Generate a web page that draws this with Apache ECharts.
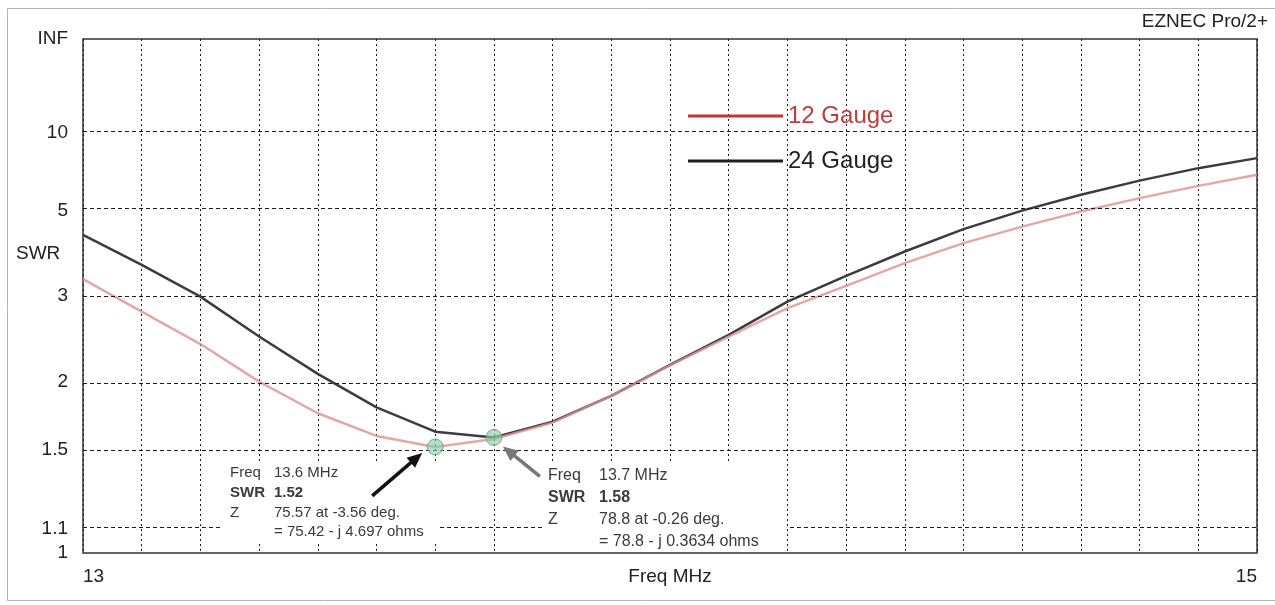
<!DOCTYPE html>
<html><head><meta charset="utf-8">
<script src="https://cdn.jsdelivr.net/npm/echarts@6/dist/echarts.min.js"></script>
<style>html,body{margin:0;padding:0;background:#fff}#c{width:1275px;height:605px}</style>
</head><body><div id="c"></div>
<script>
// ---- data ----
const freqs = [13.0,13.1,13.2,13.3,13.4,13.5,13.6,13.7,13.8,13.9,14.0,14.1,14.2,14.3,14.4,14.5,14.6,14.7,14.8,14.9,15.0];
const swr24 = [4.25,3.55,2.99,2.455,2.07,1.79,1.618,1.58,1.687,1.88,2.155,2.475,2.915,3.34,3.837,4.407,4.99,5.6,6.26,6.96,7.63];
const swr12 = [3.28,2.77,2.37,2.0,1.747,1.59,1.52,1.57,1.68,1.88,2.15,2.455,2.82,3.165,3.587,4.036,4.48,4.96,5.46,6.0,6.57];
const markerFreq = [13.6, 13.7];
const markerSwr = [1.52, 1.58];
const yTickSwr = [Infinity, 10, 5, 3, 2, 1.5, 1.1, 1];
const yTickLabels = ['INF','10','5','3','2','1.5','1.1','1'];
const gridSwr = [10, 5, 3, 2, 1.5, 1.1];
const xTickLabels = {13: '13', 14: 'Freq MHz', 15: '15'};
const note1Labels = ['Freq','SWR','Z',''];
const note1Values = ['13.6 MHz','1.52','75.57 at -3.56 deg.','= 75.42 - j 4.697 ohms'];
const note2Labels = ['Freq','SWR','Z',''];
const note2Values = ['13.7 MHz','1.58','78.8 at -0.26 deg.','= 78.8 - j 0.3634 ohms'];

// SWR plotted on a reflection-coefficient scale (as EZNEC does)
const toRho = s => s === Infinity ? 1 : (s - 1) / (s + 1);
const FONT = '"Liberation Sans", Arial, sans-serif';

const chart = echarts.init(document.getElementById('c'), null, {renderer: 'canvas'});

const option = {
  backgroundColor: '#fff',
  animation: false,
  textStyle: {fontFamily: FONT},
  grid: {left: 83, right: 18, top: 39, bottom: 52, show: true, borderColor: '#333', borderWidth: 1.5, backgroundColor: 'transparent'},
  legend: {
    orient: 'vertical', left: 683, top: 99, itemWidth: 95, itemHeight: 3, itemGap: 21,
    icon: 'rect', selectedMode: false,
    textStyle: {fontSize: 24, fontFamily: FONT},
    data: [
      {name: '12 Gauge', itemStyle: {color: '#c83232'}, textStyle: {color: '#c23b3b'}},
      {name: '24 Gauge', itemStyle: {color: '#1e1e1e'}, textStyle: {color: '#1e1e1e'}}
    ]
  },
  xAxis: {
    type: 'value', min: 13, max: 15, interval: 0.1,
    axisLine: {show: false}, axisTick: {show: false},
    axisLabel: {
      margin: 14, fontSize: 19, color: '#222', fontFamily: FONT,
      alignMinLabel: 'left', alignMaxLabel: 'right',
      formatter: v => { const k = Math.round(v * 10) / 10; return (k in xTickLabels && Math.abs(k - Math.round(k)) < 1e-6) ? xTickLabels[k] : ''; }
    },
    splitLine: {show: true, lineStyle: {color: '#1a1a1a', width: 1, type: [2, 3]}}
  },
  yAxis: {
    type: 'value', min: 0, max: 1,
    axisLine: {show: false}, axisTick: {show: false}, splitLine: {show: false},
    axisLabel: {
      margin: 15, fontSize: 19, color: '#222', fontFamily: FONT,
      customValues: yTickSwr.map(toRho),
      formatter: v => {
        let best = 0, bd = 1e9;
        yTickSwr.forEach((s, i) => { const d = Math.abs(toRho(s) - v); if (d < bd) { bd = d; best = i; } });
        return yTickLabels[best];
      }
    }
  },
  series: [
    {
      name: 'grid', type: 'line', data: [], silent: true, z: 1,
      markLine: {
        silent: true, symbol: 'none', animation: false,
        label: {show: false},
        lineStyle: {color: '#1a1a1a', width: 1, type: [4, 3]},
        data: gridSwr.map(s => ({yAxis: toRho(s)}))
      }
    },
    {
      name: '24 Gauge', type: 'line', z: 3, showSymbol: false, smooth: false,
      lineStyle: {color: '#3c3c3c', width: 2.5},
      itemStyle: {color: '#1e1e1e'},
      data: freqs.map((f, i) => [f, toRho(swr24[i])])
    },
    {
      name: '12 Gauge', type: 'line', z: 4, showSymbol: false, smooth: false,
      lineStyle: {color: '#dd9090', width: 2.5, opacity: 0.8},
      itemStyle: {color: '#c83232'},
      data: freqs.map((f, i) => [f, toRho(swr12[i])])
    },
    {
      name: 'markers', type: 'scatter', z: 5, symbol: 'circle', symbolSize: 16,
      itemStyle: {color: 'rgba(135,205,170,0.8)', borderColor: '#5f9f78', borderWidth: 1},
      data: markerFreq.map((f, i) => [f, toRho(markerSwr[i])])
    }
  ]
};
chart.setOption(option);

// ---- annotations, arrows and frame ----
function arrow(tail, tip, color, width, headLen, headW) {
  const dx = tip[0] - tail[0], dy = tip[1] - tail[1];
  const L = Math.hypot(dx, dy), ux = dx / L, uy = dy / L;
  const bx = tip[0] - ux * headLen, by = tip[1] - uy * headLen;
  const px = -uy * headW / 2, py = ux * headW / 2;
  return [
    {type: 'line', z: 120, shape: {x1: tail[0], y1: tail[1], x2: bx + ux * 2, y2: by + uy * 2}, style: {stroke: color, lineWidth: width}},
    {type: 'polygon', z: 120, shape: {points: [[tip[0], tip[1]], [bx + px, by + py], [bx - px, by - py]]}, style: {fill: color}}
  ];
}
function note(x, yTop, colGap, lineH, fontSize, labels, values, boxX, boxW, boxY, boxH) {
  const els = [{type: 'rect', z: 110, shape: {x: boxX, y: boxY, width: boxW, height: boxH}, style: {fill: '#fff'}}];
  labels.forEach((t, i) => {
    const w = (i === 1) ? 'bold' : 'normal';
    const y = yTop + i * lineH;
    if (t) els.push({type: 'text', z: 115, x: x, y: y, style: {text: t, font: w + ' ' + fontSize + 'px ' + FONT, fill: '#3a3a3a', verticalAlign: 'middle'}});
    els.push({type: 'text', z: 115, x: x + colGap, y: y, style: {text: values[i], font: w + ' ' + fontSize + 'px ' + FONT, fill: '#3a3a3a', verticalAlign: 'middle'}});
  });
  return els;
}
const m1 = chart.convertToPixel({gridIndex: 0}, [markerFreq[0], toRho(markerSwr[0])]);
const m2 = chart.convertToPixel({gridIndex: 0}, [markerFreq[1], toRho(markerSwr[1])]);

const graphics = [
  {type: 'rect', z: 0, silent: true, shape: {x: 7.5, y: 8.5, width: 1290, height: 592}, style: {fill: 'none', stroke: '#b4b4b4', lineWidth: 1}},
  {type: 'text', z: 100, right: 7, top: 12, style: {text: 'EZNEC Pro/2+', font: '19px ' + FONT, fill: '#222'}},
  {type: 'text', z: 100, x: 16, y: 254, style: {text: 'SWR', font: '19px ' + FONT, fill: '#222', verticalAlign: 'middle'}},
  ...note(230, 473, 44, 19.7, 15, note1Labels, note1Values, 223, 217, 461, 82),
  ...note(548, 476, 51, 21.7, 16, note2Labels, note2Values, 542, 245, 464, 88),
  ...arrow([m1[0] - 63, m1[1] + 49], [m1[0] - 13, m1[1] + 6], '#111', 3.5, 15, 13),
  ...arrow([m2[0] + 46, m2[1] + 39], [m2[0] + 9, m2[1] + 9], '#777', 3.5, 15, 13)
];
chart.setOption({graphic: graphics});
</script></body></html>
